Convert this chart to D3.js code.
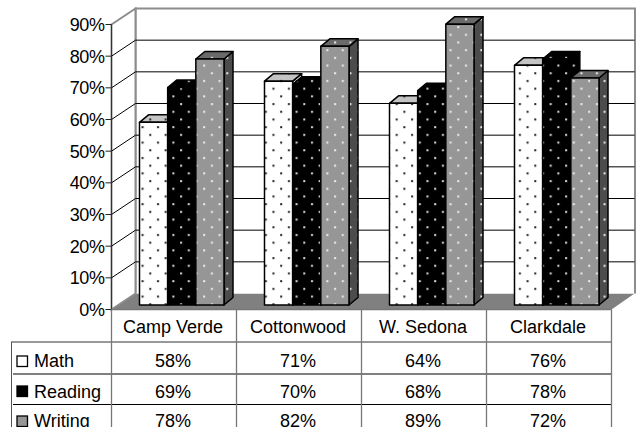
<!DOCTYPE html>
<html><head><meta charset="utf-8">
<script src="https://cdn.jsdelivr.net/npm/d3@7/dist/d3.min.js"></script>
<style>html,body{margin:0;padding:0;background:#fff;overflow:hidden}svg{display:block}
text{font-family:"Liberation Sans",Arial,sans-serif;fill:#000}</style></head>
<body><script>
const categories=["Camp Verde","Cottonwood","W. Sedona","Clarkdale"];
const seriesNames=["Math","Reading","Writing"];
const math=[58,71,64,76];
const reading=[69,70,68,78];
const writing=[78,82,89,72];
const tickValues=[0,10,20,30,40,50,60,70,80,90];
const values=[math,reading,writing];

const W=639,H=427;
const svg=d3.select("body").append("svg").attr("width",W).attr("height",H);
const defs=svg.append("defs");
const fx0=111.5,fx1=611.5,fy0=309.5,fy90=24.5,dx=24,dy=-16;
const x=d3.scaleBand().domain(categories).range([fx0,fx1]);
const y=d3.scaleLinear().domain([0,90]).range([fy0,fy90]);
const inner=d3.scaleBand().domain(seriesNames).range([28,112.5]);
const bdx=9,bdy=-7.5;

const styles={
 Math:{front:"#fff",top:"#c4c4c4",side:"#fff",dot:"#222"},
 Reading:{front:"#000",top:"#000",side:"#000",dot:"#ddd"},
 Writing:{front:"#969696",top:"#6a6a6a",side:"#4c4c4c",dot:"#eee"}
};
function pat(id,bg,dot){
 const p=defs.append("pattern").attr("id",id).attr("patternUnits","userSpaceOnUse").attr("width",15.4).attr("height",15.4);
 p.append("rect").attr("width",15.4).attr("height",15.4).attr("fill",bg);
 p.append("rect").attr("x",3).attr("y",3).attr("width",2).attr("height",2).attr("fill",dot);
 p.append("rect").attr("x",10.7).attr("y",10.7).attr("width",2).attr("height",2).attr("fill",dot);
}
seriesNames.forEach(s=>{const c=styles[s];
 pat(s+"F",c.front,c.dot);pat(s+"T",c.top,c.dot);pat(s+"S",c.side,c.dot);});

// back wall and floor
svg.append("path").attr("d",`M${fx0},${fy0}L${fx0+dx},${fy0+dy}L${fx1+dx-1},${fy0+dy}L${fx1},${fy0}Z`).attr("fill","#808080");
svg.append("path").attr("d",`M${fx0+dx},${fy0+dy}V${fy90+dy}H${fx1+dx-0.5}V${fy0+dy}`).attr("fill","#fff").attr("stroke","#8c8c8c").attr("stroke-width",2);
svg.append("path").attr("d",`M${fx0},${fy0}V${fy90}L${fx0+dx},${fy90+dy}V${fy0+dy}Z`).attr("fill","#fff").attr("stroke","#8c8c8c").attr("stroke-width",2);
// grid
tickValues.slice(1,-1).forEach(t=>{
 svg.append("path").attr("d",`M${fx0},${y(t)}L${fx0+dx},${y(t)+dy}H${fx1+dx-1}`).attr("fill","none").attr("stroke","#000").attr("stroke-width",1);
});
svg.append("line").attr("x1",fx0).attr("x2",fx0).attr("y1",fy90).attr("y2",fy0).attr("stroke","#333").attr("stroke-width",1);
// ticks and labels
tickValues.forEach(t=>{
 svg.append("line").attr("x1",fx0-6).attr("x2",fx0).attr("y1",y(t)).attr("y2",y(t)).attr("stroke","#222");
 svg.append("text").attr("x",fx0-7).attr("y",y(t)+6.5).attr("text-anchor","end").attr("font-size",18).attr("letter-spacing",-0.4).text(t+"%");
});
// bars
categories.forEach((c,ci)=>{
 seriesNames.forEach((s,si)=>{
  const v=values[si][ci];
  const l=x(c)+inner(s),r=l+inner.bandwidth();
  const b=y(0)-4.5,t=y(v)-3.5;
  const g=svg.append("g").attr("stroke","#000").attr("stroke-width",1.5).attr("stroke-linejoin","round");
  g.append("path").attr("d",`M${r},${b}L${r+bdx},${b+bdy}V${t+bdy}L${r},${t}Z`).attr("fill",`url(#${s}S)`);
  g.append("path").attr("d",`M${l},${t}L${l+bdx},${t+bdy}H${r+bdx}L${r},${t}Z`).attr("fill",`url(#${s}T)`);
  g.append("rect").attr("x",l).attr("y",t).attr("width",r-l).attr("height",b-t).attr("fill",`url(#${s}F)`);
 });
});
// data table
const ruleY=[342,374,404.5];
const baseY=[367,397.5,426.5];
const legendY=[356,386,416];
const tbl=svg.append("g");
categories.forEach((c,i)=>{
 const cx=x(c)+x.bandwidth()/2-1;
 tbl.append("text").attr("x",cx).attr("y",332.5).attr("text-anchor","middle").attr("font-size",18).text(c);
 values.forEach((vals,si)=>{
  tbl.append("text").attr("x",cx).attr("y",baseY[si]).attr("text-anchor","middle").attr("font-size",18).text(vals[i]+"%");
 });
});
ruleY.forEach((ry,i)=>{
 tbl.append("line").attr("x1",i==0?11:13).attr("x2",fx1).attr("y1",ry).attr("y2",ry).attr("stroke",i==0?"#333":"#000");
});
[0,1,2,3,4].forEach(i=>{
 const xx=fx0+i*x.bandwidth();
 tbl.append("line").attr("x1",xx).attr("x2",xx).attr("y1",fy0).attr("y2",H).attr("stroke","#777").attr("stroke-width",1.3);
});
tbl.append("line").attr("x1",11.5).attr("x2",11.5).attr("y1",342).attr("y2",H).attr("stroke","#555");
tbl.append("line").attr("x1",fx0).attr("x2",fx1).attr("y1",fy0).attr("y2",fy0).attr("stroke","#777").attr("stroke-width",1.3);
seriesNames.forEach((s,i)=>{
 const c=styles[s];
 tbl.append("rect").attr("x",17).attr("y",legendY[i]).attr("width",10.5).attr("height",10.5).attr("fill",c.front).attr("stroke","#000").attr("stroke-width",1.3);
 tbl.append("text").attr("x",34).attr("y",baseY[i]).attr("font-size",18).text(s);
});
</script></body></html>
